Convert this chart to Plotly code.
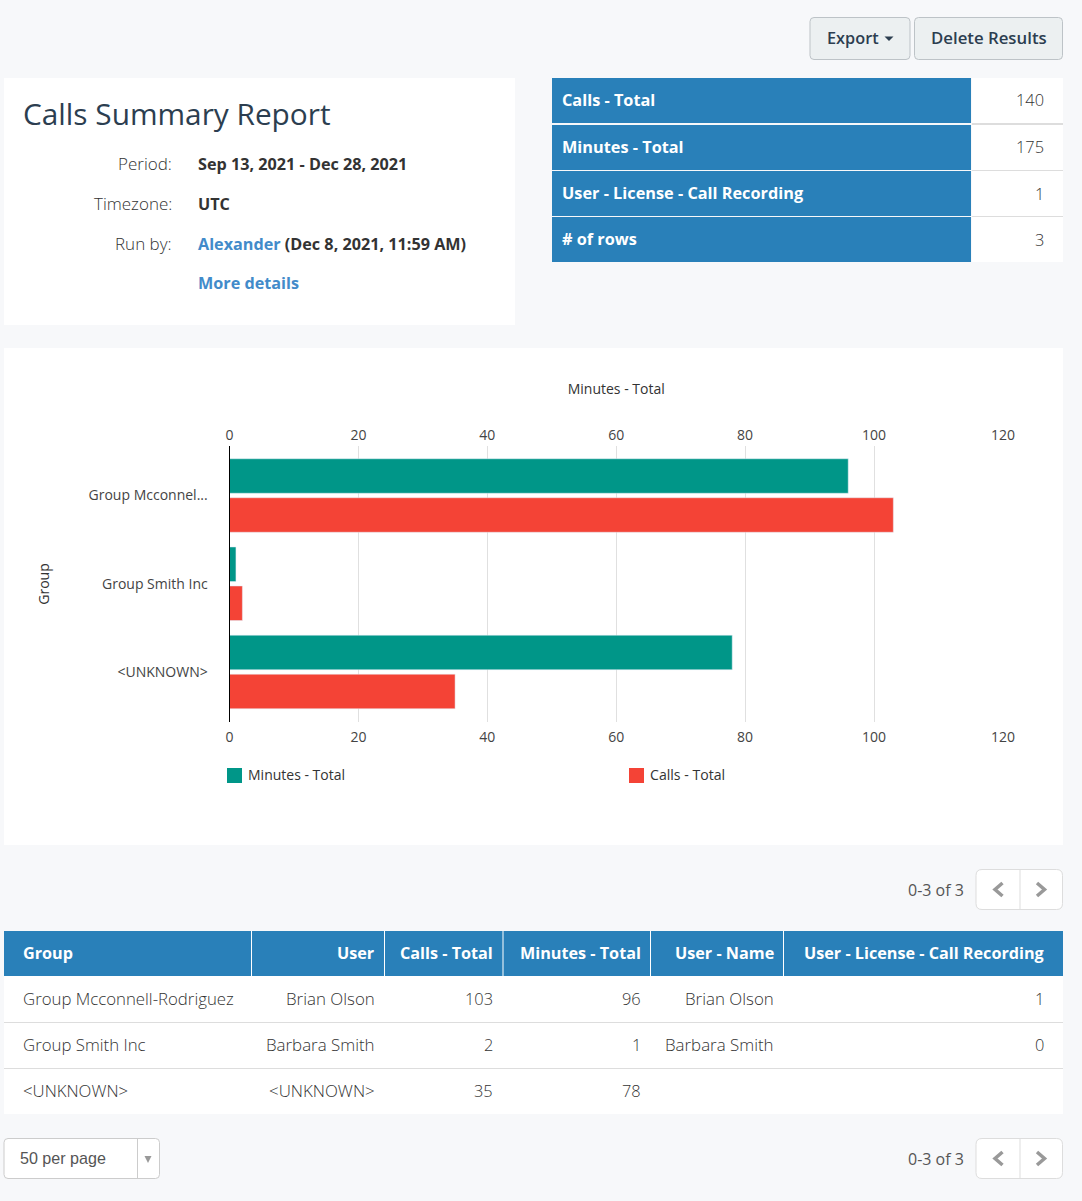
import plotly.graph_objects as go

W, H = 1082, 1201

# chart data
groups = ["Group Mcconnell-Rodriguez", "Group Smith Inc", "<UNKNOWN>"]
group_labels = ["Group Mcconnel...", "Group Smith Inc", "<UNKNOWN>"]
minutes_total = [96, 1, 78]
calls_total = [103, 2, 35]
x_ticks = [0, 20, 40, 60, 80, 100, 120]

# table data
users = ["Brian Olson", "Barbara Smith", "<UNKNOWN>"]
user_names = ["Brian Olson", "Barbara Smith", ""]
call_recording = ["1", "0", ""]
table_headers = ["User", "Calls - Total", "Minutes - Total", "User - Name", "User - License - Call Recording"]

# summary box
summary_labels = ["Calls - Total", "Minutes - Total", "User - License - Call Recording", "# of rows"]
summary_values = ["140", "175", "1", "3"]

BLUE = "#2980b9"
TEAL = "#009688"
RED = "#f44336"
DARK = "#2c3e50"
TEXT = "#333333"
LINK = "#428bca"
LINE = "#dddddd"
FONT = "Open Sans"


def px(x):
    return x / W


def py(y):
    return 1 - y / H


shapes = []
annotations = []


def rect(x0, y0, x1, y1, fill, line=None):
    shapes.append(dict(type="rect", xref="paper", yref="paper", x0=px(x0), x1=px(x1), y0=py(y0), y1=py(y1),
                       fillcolor=fill, line=dict(color=line or fill, width=1 if line else 0), layer="below"))


def rounded(x0, y0, x1, y1, fill, line, r=4):
    rx, ry = r / W, r / H
    a, b, c, d = px(x0), px(x1), py(y0), py(y1)
    path = (f"M{a + rx},{c} L{b - rx},{c} Q{b},{c} {b},{c - ry} L{b},{d + ry} Q{b},{d} {b - rx},{d} "
            f"L{a + rx},{d} Q{a},{d} {a},{d + ry} L{a},{c - ry} Q{a},{c} {a + rx},{c} Z")
    shapes.append(dict(type="path", xref="paper", yref="paper", path=path, fillcolor=fill,
                       line=dict(color=line, width=1), layer="below"))


def poly(points, fill=None, line=None, width=0):
    path = "M" + " L".join(f"{px(x)},{py(y)}" for x, y in points)
    if fill:
        path += " Z"
    shapes.append(dict(type="path", xref="paper", yref="paper", path=path, fillcolor=fill or "rgba(0,0,0,0)",
                       line=dict(color=line or "rgba(0,0,0,0)", width=width), layer="below"))


def text(x, y, s, anchor="left", size=16, color=TEXT, weight=400, family=FONT):
    annotations.append(dict(xref="paper", yref="paper", x=px(x), y=py(y), text=s, showarrow=False,
                            xanchor=anchor, yanchor="middle", borderpad=0, borderwidth=0,
                            font=dict(family=family, size=size, color=color, weight=weight)))


def esc(s):
    return str(s).replace("<", "&lt;").replace(">", "&gt;")


def pager(y0, y1):
    rounded(976, y0, 1062.5, y1, "#ffffff", "#dddddd", r=6)
    poly([(1020, y0), (1020, y1)], line="#dddddd", width=1)
    mid = (y0 + y1) / 2
    poly([(1002.5, mid - 6.5), (995, mid), (1002.5, mid + 6.5)], line="#999999", width=3.5)
    poly([(1037, mid - 6.5), (1044.5, mid), (1037, mid + 6.5)], line="#999999", width=3.5)
    text(964, mid, "0-3 of 3", "right", 16, "#555555", 400)


# toolbar buttons
rounded(810, 17.5, 910, 59.5, "#ecf0f1", "#bdc3c7")
rounded(914.5, 17.5, 1062.5, 59.5, "#ecf0f1", "#bdc3c7")
text(827, 38, "Export", "left", 16.3, DARK, 600)
poly([(884.5, 36.5), (893.5, 36.5), (889, 41)], fill=DARK)
text(931, 37.4, "Delete Results", "left", 16.8, DARK, 600)

# report info panel
rect(4, 78, 515, 325, "#ffffff")
text(23, 113, "Calls Summary Report", "left", 29.8, DARK, 400)
text(172, 163.4, "Period:", "right", 17, TEXT, 300)
text(172, 203.4, "Timezone:", "right", 17, TEXT, 300)
text(172, 243.4, "Run by:", "right", 17, TEXT, 300)
text(198, 164, "Sep 13, 2021 - Dec 28, 2021", "left", 16.2, TEXT, 700)
text(198, 204, "UTC", "left", 16.2, TEXT, 700)
text(198, 244, f'<span style="color:{LINK}">Alexander</span> (Dec 8, 2021, 11:59 AM)', "left", 16.2, TEXT, 700)
text(198, 283, "More details", "left", 16.2, LINK, 700)

# summary box
summary_rows = [(78, 123), (125, 170), (171, 216), (217, 262)]
summary_mid = [100, 147, 193, 239]
for (y0, y1), mid, label, value in zip(summary_rows, summary_mid, summary_labels, summary_values):
    rect(552, y0, 971, y1, BLUE)
    rect(972, y0, 1063, y1, "#ffffff")
    text(562, mid, label, "left", 16.3, "#ffffff", 700)
    text(1044, mid, value, "right", 16.4, TEXT, 300)
rect(972, 123, 1063, 125, LINE)
rect(972, 170, 1063, 171, LINE)
rect(972, 216, 1063, 217, LINE)

# chart panel
rect(4, 348, 1063, 845, "#ffffff")
rect(227, 768, 242, 783, TEAL)
text(248, 774.5, "Minutes - Total", "left", 14, TEXT)
rect(629, 768, 644, 783, RED)
text(650, 774.5, "Calls - Total", "left", 14.1, TEXT)

# results table
pager(869.5, 909.5)
rect(4, 931, 1063, 976, BLUE)
for sep in [251.5, 384.5, 503, 650.5, 783.5]:
    rect(sep - 0.5, 931, sep + 0.5, 976, "#ffffff")
rect(4, 976, 1063, 1114, "#ffffff")
rect(4, 1022, 1063, 1023, LINE)
rect(4, 1068, 1063, 1069, LINE)
text(23, 953, "Group", "left", 16.2, "#ffffff", 700)
col_right = [374.5, 493, 640.5, 773.5, 1044]
for right, head in zip(col_right, table_headers):
    text(right, 953, head, "right", 16.2, "#ffffff", 700)
row_mid = [998.4, 1044.4, 1090.4]
for i, mid in enumerate(row_mid):
    text(23, mid, esc(groups[i]), "left", 16.8, TEXT, 300)
    cells = [users[i], calls_total[i], minutes_total[i], user_names[i], call_recording[i]]
    for right, cell in zip(col_right, cells):
        if cell != "":
            size = 16.4 if str(cell).isdigit() else 16.9
            text(right, mid, esc(cell), "right", size, TEXT, 300)

# page size select and lower pager
rounded(4, 1138.5, 159.5, 1178.5, "#ffffff", "#cccccc")
poly([(137.5, 1138.5), (137.5, 1178.5)], line="#cccccc", width=1)
text(20, 1158, "50 per page", "left", 16.1, "#555555", 400, "Liberation Sans")
poly([(144.5, 1156), (151.5, 1156), (148, 1163)], fill="#999999")
pager(1138.5, 1178.5)

fig = go.Figure()
fig.add_trace(go.Bar(y=groups, x=minutes_total, name="Minutes - Total", orientation="h", marker_color=TEAL))
fig.add_trace(go.Bar(y=groups, x=calls_total, name="Calls - Total", orientation="h", marker_color=RED))
# invisible trace so the top axis gets drawn
fig.add_trace(go.Scatter(y=groups, x=minutes_total, xaxis="x2", mode="none", hoverinfo="skip"))

axis_font = dict(family=FONT, size=14, color="#444444")
fig.update_layout(
    width=W, height=H,
    margin=dict(l=0, r=0, t=0, b=0, autoexpand=False),
    paper_bgcolor="#f7f8fa", plot_bgcolor="rgba(0,0,0,0)",
    barmode="group", bargap=0.116, bargroupgap=0.115,
    showlegend=False,
    shapes=shapes, annotations=annotations,
    font=dict(family=FONT, color=TEXT),
    xaxis=dict(domain=[px(229.5), px(1002.9)], range=[0, 120], tickvals=x_ticks, side="bottom", anchor="y",
               showgrid=True, gridcolor="#e0e0e0", gridwidth=1, zeroline=False, showline=False,
               ticks="", tickfont=axis_font, ticklabelstandoff=5),
    xaxis2=dict(domain=[px(229.5), px(1002.9)], range=[0, 120], tickvals=x_ticks, side="top", anchor="y",
                overlaying="x", showgrid=False, zeroline=False, showline=False, ticks="",
                tickfont=axis_font, ticklabelstandoff=2,
                title=dict(text="Minutes - Total", font=dict(family=FONT, size=14, color=TEXT), standoff=27)),
    yaxis=dict(domain=[py(722), py(446)], range=[2.567, -0.561], type="category",
               categoryorder="array", categoryarray=groups, tickmode="array", tickvals=groups, ticktext=group_labels,
               showline=True, linecolor="#000000", linewidth=1, showgrid=False, zeroline=False,
               ticks="", tickfont=dict(family=FONT, size=14, color="#444444"), ticklabelstandoff=18,
               title=dict(text="Group", font=dict(family=FONT, size=14, color=TEXT), standoff=35)),
)

fig.write_html("out.html", post_script="document.body.style.margin='0';", config=dict(displayModeBar=False))
